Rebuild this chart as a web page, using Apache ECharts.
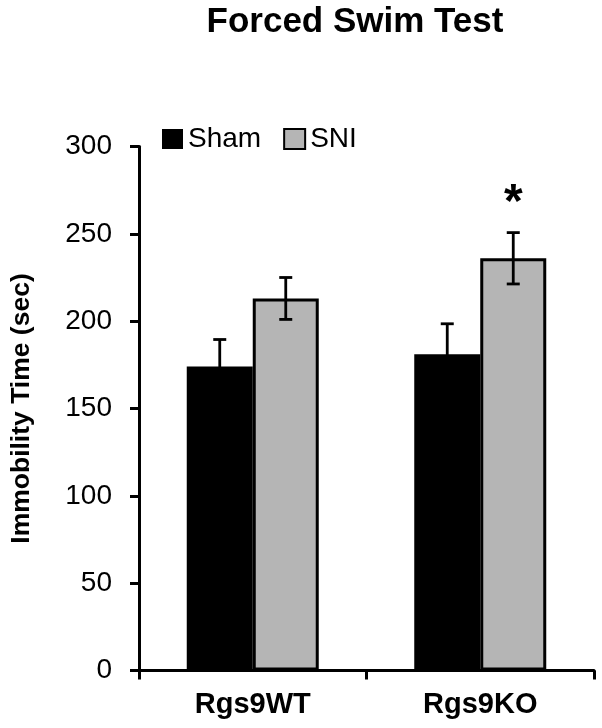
<!DOCTYPE html>
<html><head><meta charset="utf-8">
<script src="https://cdn.jsdelivr.net/npm/echarts@6/dist/echarts.min.js"></script>
<style>html,body{margin:0;padding:0;background:#fff}#c{width:602px;height:728px}</style>
</head><body><div id="c"></div>
<script>
const categories = ['Rgs9WT', 'Rgs9KO'];
const shamValues = [174, 181];
const shamErrors = [15.5, 17.5];
const sniValues = [213, 236];
const sniErrors = [12, 14.7];
const sniSignificance = ['', '*'];
const yTicks = [0, 50, 100, 150, 200, 250, 300];

const chart = echarts.init(document.getElementById('c'), null, {renderer: 'canvas'});
const BAR_W = 66;
const FONT = 'Liberation Sans';
function errSeries(name, values, errors, offset, marks) {
  return {
    type: 'custom', name: name + '-err', z: 10, silent: true,
    data: values.map((v, i) => [i, v, errors[i]]),
    renderItem: function (params, api) {
      const i = api.value(0), v = api.value(1), e = api.value(2);
      const top = api.coord([i, v + e]);
      const bot = api.coord([i, v - e]);
      const x = top[0] + offset;
      const cw = 6.5;
      const style = {stroke: '#000', lineWidth: 2.8};
      const children = [
        {type: 'line', shape: {x1: x, y1: top[1], x2: x, y2: bot[1]}, style},
        {type: 'line', shape: {x1: x - cw, y1: top[1], x2: x + cw, y2: top[1]}, style},
        {type: 'line', shape: {x1: x - cw, y1: bot[1], x2: x + cw, y2: bot[1]}, style}
      ];
      const m = marks ? marks[params.dataIndex] : '';
      if (m) {
        children.push({type: 'text', style: {text: m, x: x, y: top[1] - 5, textAlign: 'center', textVerticalAlign: 'bottom', fontSize: 48, fontWeight: 'bold', fontFamily: FONT, fill: '#000'}});
      }
      return {type: 'group', children};
    }
  };
}
chart.setOption({
  animation: false,
  title: {text: 'Forced Swim Test', left: 350, top: 0, textAlign: 'center',
    textStyle: {fontFamily: FONT, fontSize: 35, fontWeight: 'bold', color: '#000'}},
  legend: {
    data: [{name: 'Sham', icon: 'rect'}, {name: 'SNI', icon: 'rect'}], left: 157, top: 120, itemWidth: 21, itemHeight: 20, itemGap: 22,
    textStyle: {fontFamily: FONT, fontSize: 28, color: '#000'}
  },
  grid: {left: 134, right: 8, top: 146.5, bottom: 57.5, containLabel: false},
  xAxis: {
    type: 'category', data: categories,
    axisLine: {lineStyle: {color: '#000', width: 3}},
    axisTick: {show: true, length: 9, lineStyle: {color: '#000', width: 3}},
    axisLabel: {fontFamily: FONT, fontSize: 29, fontWeight: 'bold', color: '#000', margin: 20}
  },
  yAxis: {
    type: 'value', min: 0, max: 300, interval: 50,
    name: 'Immobility Time (sec)', nameLocation: 'middle', nameGap: 104,
    nameTextStyle: {fontFamily: FONT, fontSize: 26.5, fontWeight: 'bold', color: '#000'},
    axisLine: {show: true, lineStyle: {color: '#000', width: 3}},
    axisTick: {show: true, length: 9, lineStyle: {color: '#000', width: 3}},
    splitLine: {show: false},
    axisLabel: {fontFamily: FONT, fontSize: 28, color: '#000', margin: 27,
      formatter: v => yTicks.includes(v) ? String(v) : ''}
  },
  series: [
    {name: 'Sham', type: 'bar', data: shamValues, barWidth: BAR_W, barGap: '0%',
      itemStyle: {color: '#000', borderColor: '#000', borderWidth: 0}},
    {name: 'SNI', type: 'bar', data: sniValues, barWidth: BAR_W, barGap: '0%',
      itemStyle: {color: '#b5b5b5', borderColor: '#000', borderWidth: 3}},
    errSeries('Sham', shamValues, shamErrors, -BAR_W / 2),
    errSeries('SNI', sniValues, sniErrors, BAR_W / 2, sniSignificance)
  ]
});
</script></body></html>
